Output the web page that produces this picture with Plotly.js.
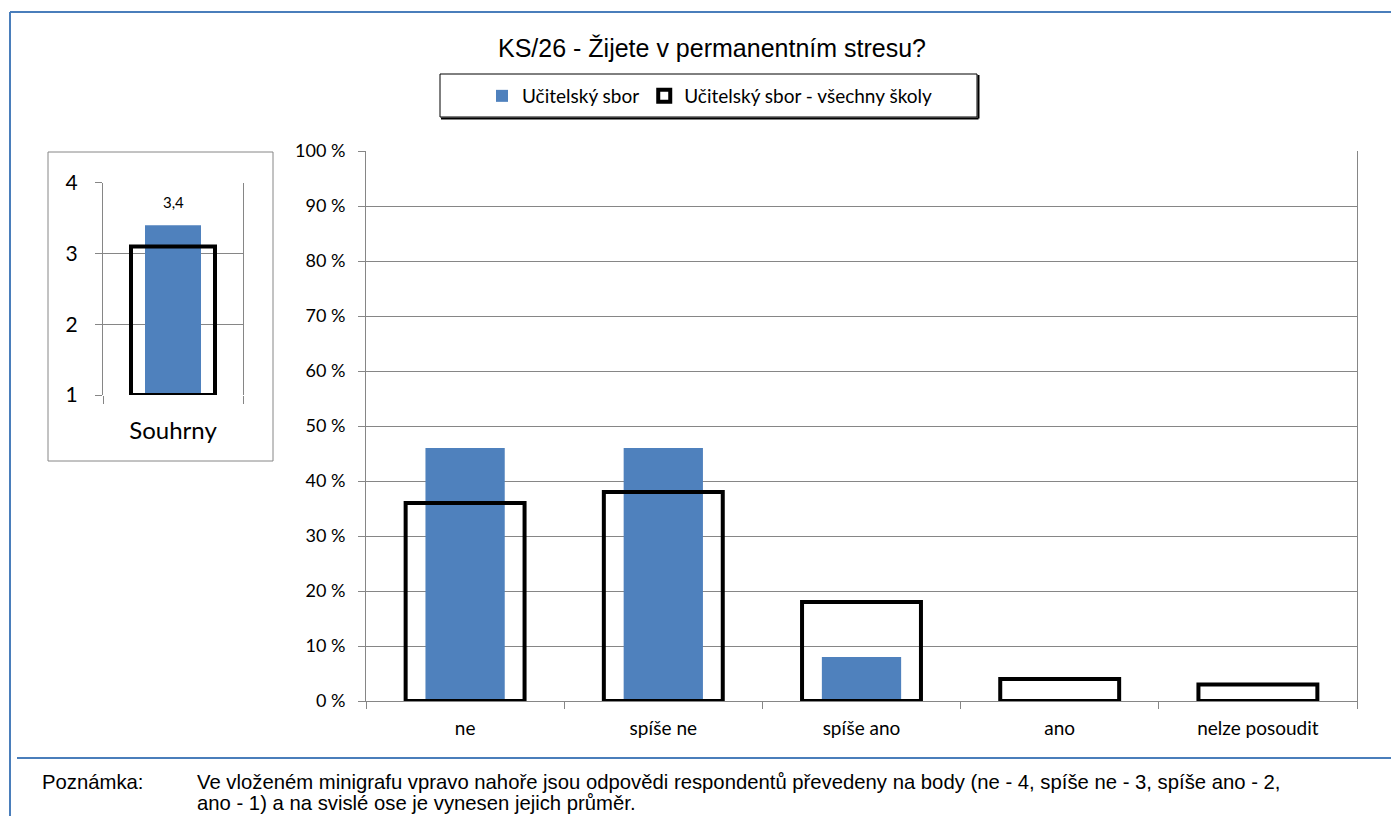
<!DOCTYPE html>
<html>
<head>
<meta charset="utf-8">
<script src="https://cdn.plot.ly/plotly-3.0.1.min.js"></script>
<style>html,body{margin:0;padding:0;background:#fff;}#chart{width:1391px;height:816px;}</style>
</head>
<body>
<div id="chart"></div>
<script>
// ---- data ----
var categories = ['ne', 'spíše ne', 'spíše ano', 'ano', 'nelze posoudit'];
var schoolValues = [46, 46, 8, 0, 0];          // Učitelský sbor (%)
var allSchoolsValues = [36, 38, 18, 4, 3];      // Učitelský sbor - všechny školy (%)
var summaryCategory = ['Souhrny'];
var summarySchool = [3.4];
var summaryAll = [3.1];
var summaryBase = 1;
var yTickVals = [0, 10, 20, 30, 40, 50, 60, 70, 80, 90, 100];
var yTickText = yTickVals.map(function (v) { return v + ' %'; });
var miniTickVals = [1, 2, 3, 4];
var seriesNames = ['Učitelský sbor', 'Učitelský sbor - všechny školy'];

// ---- helpers (pixel -> paper, margins are zero) ----
var W = 1391, H = 816;
function px(x) { return x / W; }
function py(y) { return 1 - y / H; }

var BLUE = '#4F81BD';
var GRID = '#868686';
var FRAME = '#4A7EBB';
var CAL = 'Lato, "Open Sans", sans-serif';
var ARIAL = '"Liberation Sans", Arial, sans-serif';

var traces = [
  {
    type: 'bar', name: seriesNames[0], x: categories, y: schoolValues,
    xaxis: 'x', yaxis: 'y', width: 0.4,
    marker: { color: BLUE, line: { width: 0 } }, showlegend: true, hoverinfo: 'x+y'
  },
  {
    type: 'bar', name: seriesNames[1], x: categories, y: allSchoolsValues,
    xaxis: 'x', yaxis: 'y', width: 0.6,
    marker: { color: 'rgba(255,255,255,0)', line: { color: '#000', width: 4 } }, showlegend: true, hoverinfo: 'x+y'
  },
  {
    type: 'bar', name: seriesNames[0], x: summaryCategory,
    y: summarySchool.map(function (v) { return v - summaryBase; }), base: summaryBase,
    xaxis: 'x2', yaxis: 'y2', width: 0.4,
    marker: { color: BLUE, line: { width: 0 } }, showlegend: false, hoverinfo: 'skip'
  },
  {
    type: 'bar', name: seriesNames[1], x: summaryCategory,
    y: summaryAll.map(function (v) { return v - summaryBase; }), base: summaryBase,
    xaxis: 'x2', yaxis: 'y2', width: 0.6,
    marker: { color: 'rgba(255,255,255,0)', line: { color: '#000', width: 4 } }, showlegend: false, hoverinfo: 'skip'
  }
];

var annotations = summarySchool.map(function (v, i) {
  return {
    xref: 'x2', yref: 'y2', x: summaryCategory[i], y: v,
    text: String(v).replace('.', ','), showarrow: false,
    yanchor: 'bottom', yshift: 12,
    font: { family: CAL, size: 15, color: '#000' }
  };
});
annotations.push(
  { xref: 'paper', yref: 'paper', x: px(40), y: py(782), xanchor: 'left', yanchor: 'middle', showarrow: false,
    text: 'Poznámka:', font: { family: ARIAL, size: 20.3, color: '#000' } },
  { xref: 'paper', yref: 'paper', x: px(195), y: py(782), xanchor: 'left', yanchor: 'middle', showarrow: false,
    text: 'Ve vloženém minigrafu vpravo nahoře jsou odpovědi respondentů převedeny na body (ne - 4, spíše ne - 3, spíše ano - 2,',
    font: { family: ARIAL, size: 20.3, color: '#000' } },
  { xref: 'paper', yref: 'paper', x: px(195), y: py(803), xanchor: 'left', yanchor: 'middle', showarrow: false,
    text: 'ano - 1) a na svislé ose je vynesen jejich průměr.',
    font: { family: ARIAL, size: 20.3, color: '#000' } }
);

var shapes = [
  // outer frame
  { type: 'line', xref: 'paper', yref: 'paper', x0: px(10), x1: 1, y0: py(12), y1: py(12), line: { color: FRAME, width: 2 } },
  { type: 'line', xref: 'paper', yref: 'paper', x0: px(10), x1: px(10), y0: py(12), y1: 0, line: { color: FRAME, width: 2 } },
  { type: 'line', xref: 'paper', yref: 'paper', x0: px(17), x1: 1, y0: py(758), y1: py(758), line: { color: FRAME, width: 2 } },
  // mini chart box
  { type: 'rect', xref: 'paper', yref: 'paper', x0: px(48), x1: px(273), y0: py(152), y1: py(461), line: { color: GRID, width: 1 }, layer: 'below' },
  // legend box with shadow
  { type: 'rect', xref: 'paper', yref: 'paper', x0: px(440), x1: px(977), y0: py(74), y1: py(117), line: { color: '#000', width: 1 }, fillcolor: '#fff', layer: 'below' },
  { type: 'line', xref: 'paper', yref: 'paper', x0: px(441), x1: px(978.5), y0: py(118.5), y1: py(118.5), line: { color: '#000', width: 2 } },
  { type: 'line', xref: 'paper', yref: 'paper', x0: px(978.5), x1: px(978.5), y0: py(75), y1: py(118.5), line: { color: '#000', width: 2 } }
];

var layout = {
  width: W, height: H, autosize: false,
  margin: { l: 0, r: 0, t: 0, b: 0, pad: 0 },
  paper_bgcolor: '#fff', plot_bgcolor: 'rgba(0,0,0,0)',
  separators: ', ',
  barmode: 'overlay',
  title: {
    text: 'KS/26 - Žijete v permanentním stresu?',
    x: px(712), y: py(48), xref: 'paper', yref: 'paper', xanchor: 'center', yanchor: 'middle',
    font: { family: ARIAL, size: 25, color: '#000' }
  },
  showlegend: true,
  legend: {
    orientation: 'h', x: px(710), y: py(96), xanchor: 'center', yanchor: 'middle',
    borderwidth: 0, bgcolor: 'rgba(0,0,0,0)',
    font: { family: CAL, size: 19, color: '#000' },
    itemwidth: 30, tracegroupgap: 0
  },
  xaxis: {
    domain: [px(366), px(1357)], type: 'category', anchor: 'y',
    tickson: 'boundaries', ticks: 'outside', ticklen: 7, tickcolor: GRID, tickwidth: 1,
    showgrid: false, showline: true, linecolor: GRID, linewidth: 1, zeroline: false,
    tickfont: { family: CAL, size: 19, color: '#000' }, ticklabelstandoff: 10,
    fixedrange: true
  },
  yaxis: {
    domain: [py(701), py(151)], range: [0, 100], anchor: 'x',
    tickmode: 'array', tickvals: yTickVals, ticktext: yTickText, ticks: 'outside', ticklen: 7, tickcolor: GRID,
    showgrid: true, gridcolor: GRID, gridwidth: 1, zeroline: false,
    showline: true, mirror: true, linecolor: GRID, linewidth: 1,
    tickfont: { family: CAL, size: 18, color: '#000' }, ticklabelstandoff: 9,
    fixedrange: true
  },
  xaxis2: {
    domain: [px(103), px(243)], type: 'category', anchor: 'y2',
    tickson: 'boundaries', ticks: 'outside', ticklen: 8, tickcolor: GRID, tickwidth: 1,
    showgrid: false, showline: false, zeroline: false,
    tickfont: { family: CAL, size: 24, color: '#000' }, ticklabelstandoff: 19,
    fixedrange: true
  },
  yaxis2: {
    domain: [py(395), py(182.7)], range: [1, 4], anchor: 'x2',
    tickvals: miniTickVals, ticks: 'outside', ticklen: 7, tickcolor: GRID,
    showgrid: true, gridcolor: GRID, gridwidth: 1, zeroline: false,
    showline: true, mirror: true, linecolor: GRID, linewidth: 1,
    tickfont: { family: CAL, size: 21, color: '#000' }, ticklabelstandoff: 13,
    fixedrange: true
  },
  annotations: annotations,
  shapes: shapes
};

Plotly.newPlot('chart', traces, layout, { displayModeBar: false, staticPlot: true });
</script>
</body>
</html>
